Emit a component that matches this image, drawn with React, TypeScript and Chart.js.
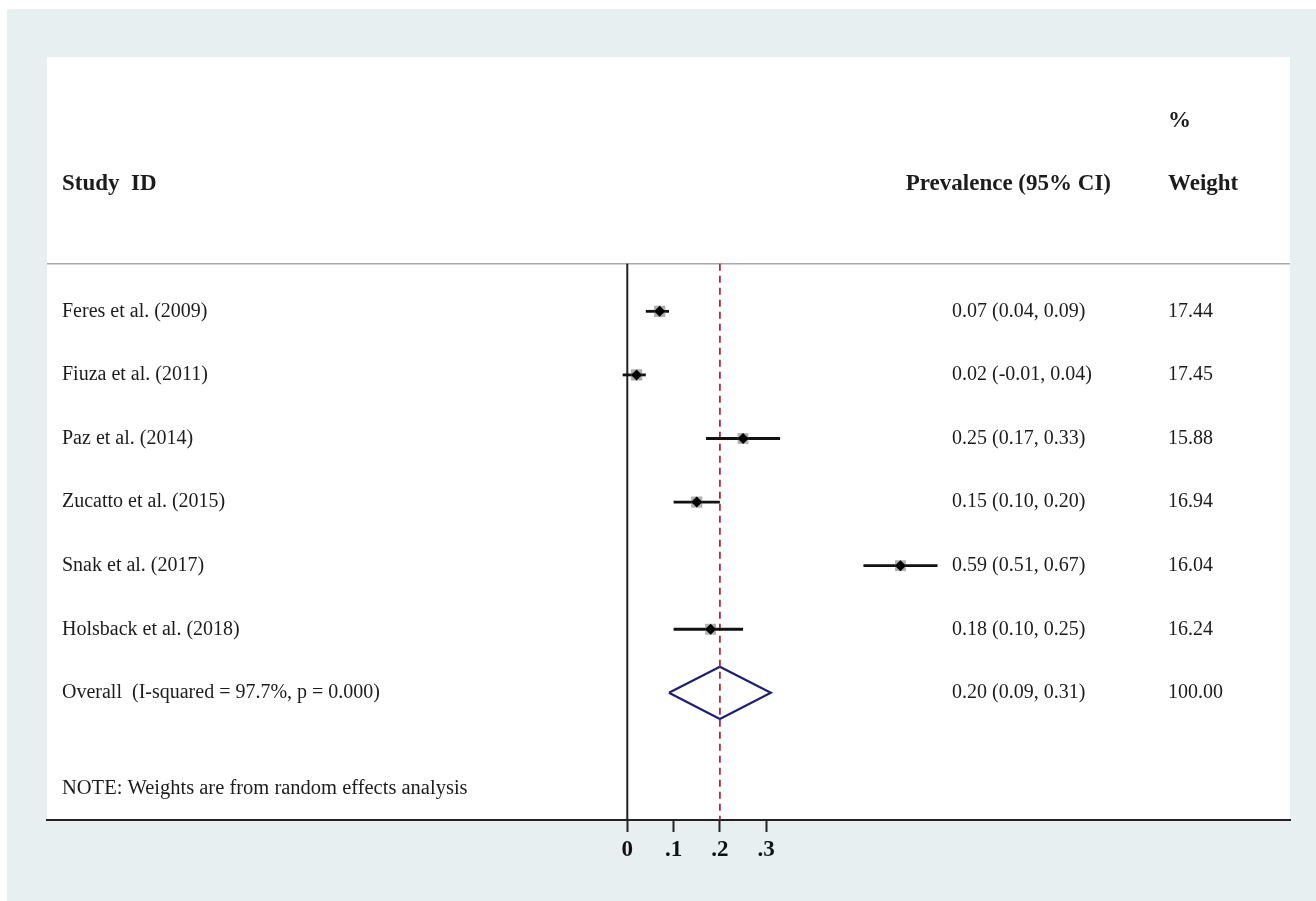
import React, { useEffect, useRef } from "react";
import { Chart, registerables } from "chart.js";

Chart.register(...registerables);

// ---------- data ----------
const STUDIES = [
  "Feres et al. (2009)",
  "Fiuza et al. (2011)",
  "Paz et al. (2014)",
  "Zucatto et al. (2015)",
  "Snak et al. (2017)",
  "Holsback et al. (2018)",
];
const ESTIMATES = [0.07, 0.02, 0.25, 0.15, 0.59, 0.18];
const LOWER = [0.04, -0.01, 0.17, 0.1, 0.51, 0.1];
const UPPER = [0.09, 0.04, 0.33, 0.2, 0.67, 0.25];
const WEIGHTS = [17.44, 17.45, 15.88, 16.94, 16.04, 16.24];

const OVERALL_LABEL = "Overall  (I-squared = 97.7%, p = 0.000)";
const OVERALL_EST = 0.2;
const OVERALL_LO = 0.09;
const OVERALL_HI = 0.31;
const OVERALL_WEIGHT = 100.0;

const TICK_VALUES = [0, 0.1, 0.2, 0.3];
const TICK_LABELS = ["0", ".1", ".2", ".3"];

const NOTE = "NOTE: Weights are from random effects analysis";
const HEAD_STUDY = "Study  ID";
const HEAD_CI = "Prevalence (95% CI)";
const HEAD_PCT = "%";
const HEAD_WEIGHT = "Weight";

// row positions (y units = rows)
const OVERALL_ROW = STUDIES.length;
const NOTE_ROW = 7.5;
const HEADER_ROW = -2;
const PCT_ROW = -3;
const RULE_ROW = -0.75;
const Y_MIN = -4;
const Y_MAX = 8;
const X_MIN = -1.2533;
const X_MAX = 1.4313;
const DIAMOND_HALF = 0.41;

const FONT = "'Liberation Serif', 'Times New Roman', serif";
const fmt = (v: number) => v.toFixed(2);

export default function App() {
  const ref = useRef<HTMLCanvasElement | null>(null);

  useEffect(() => {
    if (!ref.current) return;

    const bgPlugin = {
      id: "bg",
      beforeDraw(chart: any) {
        const { ctx, chartArea, width, height } = chart;
        ctx.save();
        ctx.fillStyle = "#ffffff";
        ctx.fillRect(0, 0, width, height);
        ctx.fillStyle = "#e8eff1";
        ctx.fillRect(7, 9, width - 7, height - 9);
        ctx.fillStyle = "#ffffff";
        ctx.fillRect(chartArea.left, chartArea.top, chartArea.right - chartArea.left, chartArea.bottom - chartArea.top);
        // header rule
        const y = chart.scales.y.getPixelForValue(RULE_ROW);
        ctx.strokeStyle = "#a8a8a8";
        ctx.lineWidth = 1.5;
        ctx.beginPath();
        ctx.moveTo(chartArea.left, y);
        ctx.lineTo(chartArea.right, y);
        ctx.stroke();
        ctx.restore();
      },
    };

    const textPlugin = {
      id: "texts",
      afterDraw(chart: any) {
        const { ctx, chartArea } = chart;
        const ys = chart.scales.y;
        const left = chartArea.left + 15;
        const ciX = 952;
        const wX = 1168;
        ctx.save();
        ctx.fillStyle = "#1c1c1c";
        ctx.textBaseline = "middle";
        ctx.font = `bold 23px ${FONT}`;
        ctx.textAlign = "left";
        ctx.fillText(HEAD_STUDY, left, ys.getPixelForValue(HEADER_ROW));
        ctx.fillText(HEAD_PCT, wX, ys.getPixelForValue(PCT_ROW));
        ctx.fillText(HEAD_WEIGHT, wX, ys.getPixelForValue(HEADER_ROW));
        ctx.textAlign = "right";
        ctx.fillText(HEAD_CI, 1111, ys.getPixelForValue(HEADER_ROW));

        ctx.font = `20px ${FONT}`;
        ctx.textAlign = "left";
        STUDIES.forEach((s, i) => {
          const y = ys.getPixelForValue(i);
          ctx.fillText(s, left, y);
          ctx.fillText(`${fmt(ESTIMATES[i])} (${fmt(LOWER[i])}, ${fmt(UPPER[i])})`, ciX, y);
          ctx.fillText(fmt(WEIGHTS[i]), wX, y);
        });
        const oy = ys.getPixelForValue(OVERALL_ROW);
        ctx.fillText(OVERALL_LABEL, left, oy);
        ctx.fillText(`${fmt(OVERALL_EST)} (${fmt(OVERALL_LO)}, ${fmt(OVERALL_HI)})`, ciX, oy);
        ctx.fillText(fmt(OVERALL_WEIGHT), wX, oy);
        ctx.font = `20.5px ${FONT}`;
        ctx.fillText(NOTE, left, ys.getPixelForValue(NOTE_ROW));
        ctx.restore();
      },
    };

    const ciDatasets = STUDIES.map((s, i) => ({
      label: s + " CI",
      data: [
        { x: LOWER[i], y: i },
        { x: UPPER[i], y: i },
      ],
      showLine: true,
      borderColor: "#111111",
      borderWidth: 2.8,
      pointRadius: 0,
      order: 2,
    }));

    const datasets: any[] = [
      {
        label: "estimates",
        data: ESTIMATES.map((v, i) => ({ x: v, y: i })),
        pointStyle: "rectRot",
        pointRadius: 5.5,
        backgroundColor: "#000000",
        borderColor: "#000000",
        borderWidth: 0,
        order: 0,
      },
      {
        label: "weights",
        data: ESTIMATES.map((v, i) => ({ x: v, y: i })),
        pointStyle: "rect",
        pointRadius: WEIGHTS.map((w) => 8 * Math.sqrt(w / 17.45)),
        backgroundColor: "rgba(110,110,110,0.55)",
        borderWidth: 0,
        order: 1,
      },
      ...ciDatasets,
      {
        label: "overall",
        data: [
          { x: OVERALL_LO, y: OVERALL_ROW },
          { x: OVERALL_EST, y: OVERALL_ROW - DIAMOND_HALF },
          { x: OVERALL_HI, y: OVERALL_ROW },
          { x: OVERALL_EST, y: OVERALL_ROW + DIAMOND_HALF },
          { x: OVERALL_LO, y: OVERALL_ROW },
        ],
        showLine: true,
        borderColor: "#1b1f7a",
        borderWidth: 2.2,
        pointRadius: 0,
        order: 4,
      },
      {
        label: "overall line",
        data: [
          { x: OVERALL_EST, y: RULE_ROW },
          { x: OVERALL_EST, y: Y_MAX },
        ],
        showLine: true,
        borderColor: "#b22a45",
        borderWidth: 1.8,
        borderDash: [7, 5],
        pointRadius: 0,
        order: 3,
      },
      {
        label: "null line",
        data: [
          { x: 0, y: RULE_ROW },
          { x: 0, y: Y_MAX },
        ],
        showLine: true,
        borderColor: "#222222",
        borderWidth: 2,
        pointRadius: 0,
        order: 5,
      },
    ];

    const chart = new Chart(ref.current, {
      type: "scatter",
      data: { datasets },
      options: {
        responsive: false,
        animation: false,
        events: [],
        layout: { padding: { left: 47, top: 57, right: 26, bottom: 0 } },
        plugins: {
          legend: { display: false },
          tooltip: { enabled: false },
        },
        scales: {
          x: {
            type: "linear",
            position: "bottom",
            min: X_MIN,
            max: X_MAX,
            afterBuildTicks: (scale: any) => {
              scale.ticks = TICK_VALUES.map((v) => ({ value: v }));
            },
            afterFit: (scale: any) => {
              scale.height = 81;
            },
            grid: {
              drawOnChartArea: false,
              drawTicks: true,
              tickLength: 12,
              tickColor: "#222222",
              tickWidth: 2,
            },
            border: { display: true, color: "#222222", width: 2 },
            ticks: {
              autoSkip: false,
              maxRotation: 0,
              padding: 4,
              color: "#111111",
              font: { family: FONT, size: 23, weight: "bold" },
              callback: (v: any) => {
                const idx = TICK_VALUES.findIndex((t) => Math.abs(t - Number(v)) < 1e-9);
                return idx >= 0 ? TICK_LABELS[idx] : "";
              },
            },
          },
          y: {
            type: "linear",
            display: false,
            reverse: true,
            min: Y_MIN,
            max: Y_MAX,
          },
        },
      } as any,
      plugins: [bgPlugin, textPlugin],
    });

    return () => chart.destroy();
  }, []);

  return (
    <div style={{ position: "fixed", left: 0, top: 0, width: 1316, height: 901 }}>
      <canvas ref={ref} width={1316} height={901} style={{ display: "block" }} />
    </div>
  );
}
